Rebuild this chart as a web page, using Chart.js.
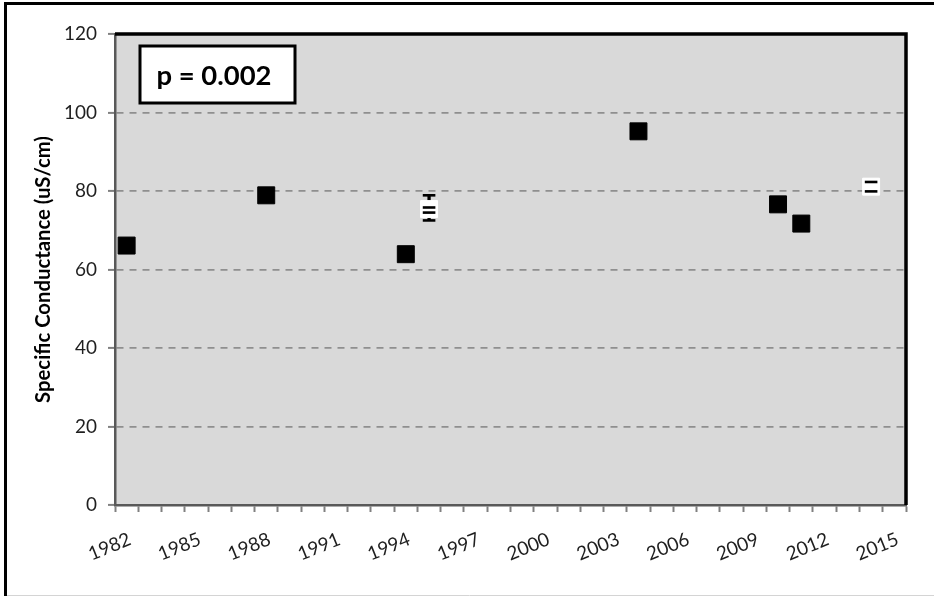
<!DOCTYPE html>
<html>
<head>
<meta charset="utf-8">
<script src="https://cdn.jsdelivr.net/npm/chart.js@4/dist/chart.umd.min.js"></script>
<style>
  html, body { margin: 0; padding: 0; background: #fff; }
  canvas { display: block; }
</style>
</head>
<body>
<canvas id="chart" width="934" height="596"></canvas>
<script>
// Annual sampling results (black squares)
const sampleYears  = [1982.5, 1988.5, 1994.5, 2004.5, 2010.5, 2011.5];
const sampleValues = [66.1, 78.9, 63.9, 95.2, 76.6, 71.7];

// Survey means (white squares) with their ranges
const meanYears  = [1995.5, 2014.5];
const meanValues = [75.4, 81.1];
const outerLow   = [72.5, null];
const outerHigh  = [78.9, null];
const innerLow   = [74.5, 79.9];
const innerHigh  = [75.8, 82.3];

// Axis labels
const xLabelYears = [1982, 1985, 1988, 1991, 1994, 1997, 2000, 2003, 2006, 2009, 2012, 2015];
const yTickValues = [0, 20, 40, 60, 80, 100, 120];
const yTitle = 'Specific Conductance (uS/cm)';
const pText = 'p = 0.002';

const FAMILY = "Lato, 'Open Sans', sans-serif";

function fitSize(text, weight, width) {
  const c = document.createElement('canvas').getContext('2d');
  c.font = weight + ' 100px ' + FAMILY;
  return 100 * width / c.measureText(text).width;
}

const tickSize  = fitSize('1982', 'normal', 44);
const titleSize = fitSize(yTitle, 'bold', 267);
const pSize     = fitSize(pText, 'bold', 115);

const plotBackground = {
  id: 'plotBackground',
  beforeDraw(chart) {
    const { ctx, chartArea: a } = chart;
    ctx.save();
    ctx.fillStyle = '#d9d9d9';
    ctx.fillRect(a.left, a.top, a.right - a.left, a.bottom - a.top);
    ctx.restore();
  }
};

const errorBars = {
  id: 'errorBars',
  beforeDatasetsDraw(chart) {
    const { ctx, scales: { x, y } } = chart;
    ctx.save();
    ctx.strokeStyle = '#000';
    ctx.lineWidth = 3.3;
    meanYears.forEach((yr, i) => {
      const px = x.getPixelForValue(yr);
      [[outerLow[i], outerHigh[i]], [innerLow[i], innerHigh[i]]].forEach(([lo, hi]) => {
        if (lo == null || hi == null) return;
        ctx.beginPath();
        ctx.moveTo(px, y.getPixelForValue(hi));
        ctx.lineTo(px, y.getPixelForValue(lo));
        ctx.stroke();
      });
    });
    ctx.restore();
  },
  afterDatasetsDraw(chart) {
    const { ctx, scales: { x, y } } = chart;
    ctx.save();
    ctx.strokeStyle = '#000';
    ctx.lineWidth = 2.6;
    const half = 6.3;
    meanYears.forEach((yr, i) => {
      const px = x.getPixelForValue(yr);
      [outerLow[i], outerHigh[i], innerLow[i], innerHigh[i]].forEach(v => {
        if (v == null) return;
        const py = y.getPixelForValue(v);
        ctx.beginPath();
        ctx.moveTo(px - half, py);
        ctx.lineTo(px + half, py);
        ctx.stroke();
      });
    });
    ctx.restore();
  }
};

const frameAndNote = {
  id: 'frameAndNote',
  afterDraw(chart) {
    const { ctx, chartArea: a } = chart;
    ctx.save();
    // plot area top and right edges
    ctx.strokeStyle = '#000';
    ctx.lineWidth = 3.5;
    ctx.beginPath();
    ctx.moveTo(a.left, a.top);
    ctx.lineTo(a.right, a.top);
    ctx.lineTo(a.right, a.bottom);
    ctx.stroke();

    // p-value note
    const bx = a.left + 25, by = a.top + 12, bw = 155, bh = 57;
    ctx.fillStyle = '#fff';
    ctx.fillRect(bx, by, bw, bh);
    ctx.lineWidth = 3;
    ctx.strokeRect(bx, by, bw, bh);
    ctx.fillStyle = '#000';
    ctx.font = 'bold ' + pSize + 'px ' + FAMILY;
    ctx.textAlign = 'center';
    ctx.textBaseline = 'alphabetic';
    ctx.fillText(pText, bx + 74, by + 39);

    // outer frame
    ctx.strokeStyle = '#d4d4d4';
    ctx.lineWidth = 1;
    ctx.beginPath();
    ctx.moveTo(5, 595.5);
    ctx.lineTo(934, 595.5);
    ctx.stroke();
    ctx.strokeStyle = '#000';
    ctx.lineWidth = 3;
    ctx.beginPath();
    ctx.moveTo(5.5, 596);
    ctx.lineTo(5.5, 3.5);
    ctx.lineTo(934, 3.5);
    ctx.stroke();
    ctx.restore();
  }
};

new Chart(document.getElementById('chart'), {
  type: 'scatter',
  data: {
    datasets: [
      {
        label: 'Samples',
        data: sampleYears.map((yr, i) => ({ x: yr, y: sampleValues[i] })),
        pointStyle: 'rect',
        pointRadius: 12,
        pointBackgroundColor: '#000',
        pointBorderColor: '#000',
        pointBorderWidth: 1
      },
      {
        label: 'Means',
        data: meanYears.map((yr, i) => ({ x: yr, y: meanValues[i] })),
        pointStyle: 'rect',
        pointRadius: 12,
        pointBackgroundColor: '#fff',
        pointBorderColor: '#fff',
        pointBorderWidth: 1
      }
    ]
  },
  options: {
    responsive: false,
    animation: false,
    events: [],
    layout: { padding: { top: 34, right: 28, left: 0, bottom: 0 } },
    plugins: { legend: { display: false }, tooltip: { enabled: false } },
    scales: {
      x: {
        type: 'linear',
        min: 1982,
        max: 2016,
        afterFit(s) { s.height = 91; },
        grid: {
          drawOnChartArea: false,
          drawTicks: true,
          tickLength: 7,
          tickColor: '#808080',
          tickWidth: 2
        },
        border: { display: true, color: '#595959', width: 2.5 },
        ticks: {
          stepSize: 1,
          autoSkip: false,
          maxTicksLimit: 100,
          minRotation: 22,
          maxRotation: 22,
          labelOffset: 15,
          padding: 16,
          color: '#1f1f1f',
          font: { family: FAMILY, size: tickSize },
          callback: v => xLabelYears.includes(v) ? String(v) : ''
        }
      },
      y: {
        min: 0,
        max: 120,
        afterFit(s) { s.width = 115; },
        grid: {
          color: '#8f8f8f',
          lineWidth: 1.8,
          drawTicks: true,
          tickLength: 7,
          tickColor: '#808080',
          tickWidth: 2,
          tickBorderDash: []
        },
        border: { display: true, color: '#595959', width: 2.5, dash: [7, 6] },
        ticks: {
          stepSize: 20,
          maxTicksLimit: 100,
          padding: 11,
          color: '#1f1f1f',
          font: { family: FAMILY, size: tickSize },
          callback: v => yTickValues.includes(v) ? String(v) : ''
        },
        title: {
          display: true,
          text: yTitle,
          color: '#000',
          font: { family: FAMILY, size: titleSize, weight: 'bold' },
          padding: { top: 43 - titleSize * 0.6, bottom: 0 }
        }
      }
    }
  },
  plugins: [plotBackground, errorBars, frameAndNote]
});
</script>
</body>
</html>
